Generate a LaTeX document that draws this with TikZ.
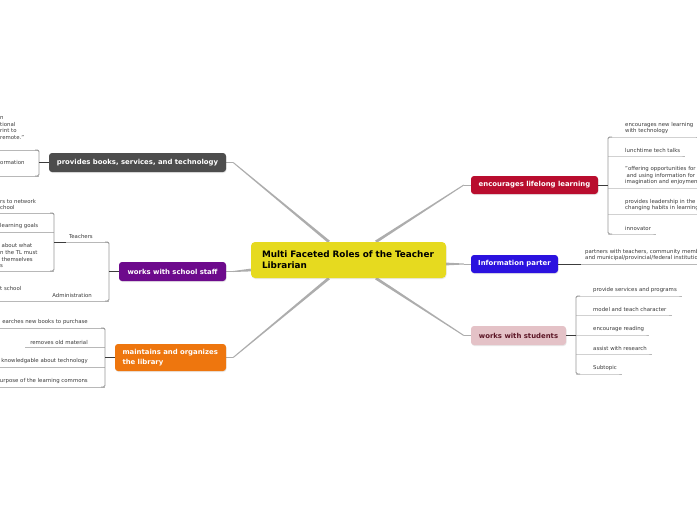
\documentclass[tikz,border=0pt]{standalone}
\usepackage{fontspec}
\setmainfont{DejaVu Sans}
\usetikzlibrary{calc,backgrounds,shadows}
\definecolor{rootc}{HTML}{E6DA1F}
\definecolor{bookc}{HTML}{4D4D4D}
\definecolor{staffc}{HTML}{6D0A8C}
\definecolor{libc}{HTML}{EE760E}
\definecolor{lifec}{HTML}{B90D2E}
\definecolor{infoc}{HTML}{2B12DF}
\definecolor{studc}{HTML}{E4C2C7}
\definecolor{studt}{HTML}{5C1626}
\definecolor{subt}{HTML}{3A3A3A}
\definecolor{linec}{HTML}{B8B8B8}
\definecolor{brc}{HTML}{959595}
\definecolor{ink}{HTML}{3C3C3C}
\definecolor{spokec}{HTML}{ADADAD}
\tikzset{root/.style={fill=rootc,rounded corners=4pt,align=left,text width=173pt,inner xsep=11pt,inner ysep=0pt,
    minimum height=36pt,font=\bfseries\fontsize{8.85}{11}\selectfont,drop shadow={shadow xshift=.5pt,shadow yshift=-1pt,opacity=.18}},
  topic/.style={rounded corners=3pt,text=white,inner sep=0pt,minimum height=19pt,font=\bfseries\fontsize{6.9}{9.5}\selectfont,
    drop shadow={shadow xshift=.5pt,shadow yshift=-1pt,opacity=.18}},
  sub/.style={inner sep=0pt,align=left,text=subt,font=\fontsize{5.4}{6.6}\selectfont},
  sline/.style={draw=linec,line width=.8pt},
  bline/.style={draw=brc,line width=.8pt,rounded corners=1.5pt},
  cline/.style={draw=ink,line width=.9pt}}
\newcommand{\spoke}[3]{%
  \coordinate (sp) at ([xshift=#3]#2);
  \fill[spokec] ($(#1)!1.4pt!90:(sp)$) -- ($(sp)!.5pt!-90:(#1)$) -- ($(sp)!.5pt!90:(#1)$) -- ($(#1)!1.4pt!-90:(sp)$) -- cycle;
  \draw[spokec,line width=.9pt] (sp) -- (#2);}

\begin{document}
\begin{tikzpicture}[x=1pt,y=-1pt]
\useasboundingbox (0,0) rectangle (697,520);
\clip (0,0) rectangle (697,520);
\node[root] (root) at (348.5,260) {Multi Faceted Roles of the Teacher\\Librarian};
\node[topic,fill=bookc,minimum width=177pt] (books) at (137.5,162.5) {provides books, services, and technology};
\node[topic,fill=staffc,minimum width=107pt] (staff) at (172.5,271.5) {works with school staff};
\node[topic,fill=libc,minimum width=111pt,minimum height=27pt,align=left,text width=96pt,inner xsep=7.5pt] (lib) at (170.5,357.5) {maintains and organizes\\the library};
\node[topic,fill=lifec,minimum width=127pt,minimum height=18pt] (life) at (534.5,185) {encourages lifelong learning};
\node[topic,fill=infoc,minimum width=87pt,minimum height=18pt] (info) at (514.5,264) {Information parter};
\node[topic,fill=studc,text=studt,minimum width=95pt] (stud) at (518.5,335.5) {works with students};

\coordinate (r1) at ($(root.north west)!.4!(root.north east)$);
\coordinate (r2) at ($(root.north west)!.64!(root.north east)$);
\coordinate (r3) at ([yshift=-10pt]root.west);
\coordinate (r4) at ([yshift=-4pt]root.east);
\coordinate (r5) at ($(root.south west)!.4!(root.south east)$);
\coordinate (r6) at ($(root.south west)!.64!(root.south east)$);
\begin{scope}[on background layer]
\spoke{r1}{books.east}{7pt}
\spoke{r3}{staff.east}{7pt}
\spoke{r5}{lib.east}{7pt}
\spoke{r2}{life.west}{-7pt}
\spoke{r4}{info.west}{-7pt}
\spoke{r6}{stud.west}{-7pt}
\end{scope}

% books
\coordinate (bk1) at (39,150); \coordinate (bk2) at (39,176);
\node[sub,anchor=south west] (b1) at (0,139.5) {n\\tional\\rint to\\remote."};
\node[sub,anchor=south west] (b2) at (0,165) {ormation};
\draw[sline] (b1.south west |- bk1) -- (bk1); \draw[sline] (b2.south west |- bk2) -- (bk2);
\draw[bline] ([xshift=-4pt]bk1) -- (bk1) -- (bk2) -- ([xshift=-4pt]bk2);
\draw[cline] (books.west) -- (books.west -| bk1);

% staff
\coordinate (sf1) at (109,242); \coordinate (sf2) at (109,301);
\node[sub,anchor=south east] (tch) at (93,239) {Teachers};
\node[sub,anchor=south east] (adm) at (92,298) {Administration};
\node[sub,anchor=south west] (ads) at (0,291) {t school};
\coordinate (tj) at ([xshift=-3pt]tch.south west |- sf1);
\draw[sline] (tj) -- (sf1); \draw[sline] (ads.south west |- sf2) -- (sf2);
\draw[bline] ([xshift=-4pt]sf1) -- (sf1) -- (sf2) -- ([xshift=-4pt]sf2);
\draw[cline] (staff.west) -- (staff.west -| sf1);
\coordinate (tc1) at (54,213); \coordinate (tc2) at (54,232); \coordinate (tc3) at (54,271);
\node[sub,anchor=south west] (t1) at (0,210) {rs to network\\chool};
\node[sub,anchor=south west] (t2) at (0,229) {learning goals};
\node[sub,anchor=south west] (t3) at (0,268) {\hspace*{1.5pt}about what\\n the TL must\\\hspace*{1.5pt}themselves\\s};
\foreach \i in {1,2,3} \draw[sline] (t\i.south west |- tc\i) -- (tc\i);
\draw[bline] ([xshift=-4pt]tc1) -- (tc1) -- (tc3) -- ([xshift=-4pt]tc3);
\draw[cline] (tj) -- (tj -| tc1);

% library
\foreach \txt/\y [count=\i] in {earches new books to purchase/328,removes old material/347.5,knowledgable about technology/367,urpose of the learning commons/387}{
  \coordinate (lb\i) at (105,\y);
  \node[sub,anchor=south east] (m\i) at (88,\y-3) {\txt};
  \draw[sline] ([xshift=-5pt]m\i.south west |- lb\i) -- (lb\i);}
\draw[bline] ([xshift=-4pt]lb1) -- (lb1) -- (lb4) -- ([xshift=-4pt]lb4);
\draw[cline] (lib.west) -- (lib.west -| lb1);

% lifelong learning
\foreach \txt/\y [count=\i] in {{encourages new learning\\with technology}/137,lunchtime tech talks/156,
    {"offering opportunities for\\\hspace*{1.5pt}and using information for\\imagination and enjoyment"}/188,
    {provides leadership in the\\changing habits in learning}/214,innovator/234}{
  \coordinate (lf\i) at (608,\y);
  \node[sub,anchor=south west] (f\i) at (625,\y-3) {\txt};
  \draw[sline] (lf\i) -- (f\i.south east |- lf\i) -- ++(5,0);}
\draw[bline] ([xshift=4pt]lf1) -- (lf1) -- (lf5) -- ([xshift=4pt]lf5);
\draw[cline] (life.east) -- (life.east -| lf1);

% information partner
\coordinate (in1) at (581,264);
\node[sub,anchor=south west] (p1) at (585,261) {partners with teachers, community members\\and municipal/provincial/federal institutions};
\draw[cline] (info.east) -- (in1); \draw[sline] (in1) -- (p1.south east |- in1);

% students
\foreach \txt/\y [count=\i] in {provide services and programs/296,model and teach character/315,encourage reading/335,assist with research/354,Subtopic/374}{
  \coordinate (st\i) at (576,\y);
  \node[sub,anchor=south west] (s\i) at (593,\y-3) {\txt};
  \draw[sline] (st\i) -- (s\i.south east |- st\i) -- ++(5,0);}
\draw[bline] ([xshift=4pt]st1) -- (st1) -- (st5) -- ([xshift=4pt]st5);
\draw[cline] (stud.east) -- (stud.east -| st1);
\end{tikzpicture}
\end{document}
